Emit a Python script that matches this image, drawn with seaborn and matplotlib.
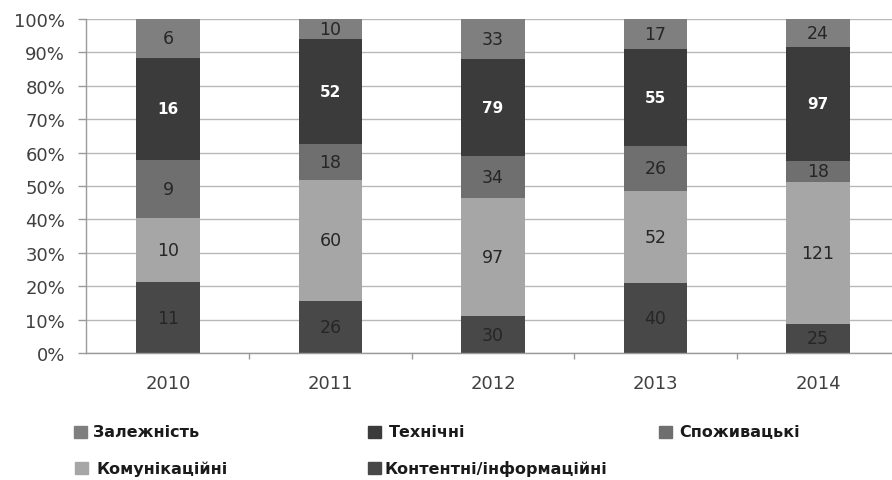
"""Stacked 100% bars of threat categories by year (2010-2014)."""

import matplotlib.pyplot as plt
import matplotlib.ticker as mticker
import numpy as np
import pandas as pd
import seaborn as sns
from matplotlib.patches import Rectangle

years = [2010, 2011, 2012, 2013, 2014]
# stacking order, top to bottom
categories = ["Залежність", "Технічні", "Споживацькі", "Комунікаційні", "Контентні/інформаційні"]
dependence = [6, 10, 33, 17, 24]
technical = [16, 52, 79, 55, 97]
consumer = [9, 18, 34, 26, 18]
communication = [10, 60, 97, 52, 121]
content = [11, 26, 30, 40, 25]

colors = ["#7f7f7f", "#3b3b3b", "#6f6f6f", "#a6a6a6", "#484848"]

W, H = 892, 481


def build_frame() -> pd.DataFrame:
    series = [dependence, technical, consumer, communication, content]
    rows = []
    for cat, vals in zip(categories, series):
        for y, v in zip(years, vals):
            rows.append({"year": y, "category": cat, "count": v})
    return pd.DataFrame(rows)


def main() -> None:
    sns.set_theme(style="white")
    plt.rcParams["font.family"] = ["DejaVu Sans"]

    df = build_frame()
    fig = plt.figure(figsize=(W / 100, H / 100), dpi=100)
    ax = fig.add_axes([86 / W, 1 - 354 / H, (W - 86) / W, (354 - 20) / H])

    sns.histplot(
        data=df, x="year", hue="category", weights="count",
        hue_order=categories, palette=colors, multiple="fill",
        discrete=True, shrink=0.39, linewidth=0, alpha=1,
        legend=False, ax=ax,
    )

    # segment labels at the middle of each stacked piece
    counts = np.array([dependence, technical, consumer, communication, content])
    totals = counts.sum(axis=0)
    for j, y in enumerate(years):
        base = 0.0
        for i in range(len(categories) - 1, -1, -1):
            share = counts[i, j] / totals[j]
            mid = base + share / 2
            if categories[i] == "Технічні":
                ax.text(y, mid, str(counts[i, j]), ha="center", va="center",
                        color="white", fontsize=11, fontweight="bold", zorder=5)
            else:
                ax.text(y, mid, str(counts[i, j]), ha="center", va="center",
                        color="#262626", fontsize=12.5, zorder=5)
            base += share

    ax.set_xlim(years[0] - 0.505, years[0] + 4.455)
    ax.set_ylim(0, 1)
    ax.set_yticks(np.arange(0, 1.01, 0.1))
    ax.yaxis.set_major_formatter(mticker.PercentFormatter(1.0, decimals=0))
    ax.set_xticks(years)
    ax.set_xticks([y + 0.5 for y in years[:-1]], minor=True)
    ax.set_xlabel("")
    ax.set_ylabel("")

    ax.grid(axis="y", color="#b8b8b8", linewidth=1.0)
    ax.set_axisbelow(True)
    for side in ["top", "right"]:
        ax.spines[side].set_visible(False)
    for side in ["left", "bottom"]:
        ax.spines[side].set_color("#9a9a9a")
        ax.spines[side].set_linewidth(1.0)

    ax.tick_params(axis="y", which="major", left=True, length=6, width=1,
                   color="#9a9a9a", pad=9, labelsize=13, labelcolor="#404040")
    ax.tick_params(axis="x", which="major", bottom=False, pad=9,
                   labelsize=13, labelcolor="#404040")
    ax.tick_params(axis="x", which="minor", bottom=True, length=4, width=1,
                   color="#9a9a9a")

    # legend laid out as in the source: three columns, two rows
    # (square left, square right, text left, row centre) in pixels
    legend_spots = {
        "Залежність": (74, 433, 93),
        "Технічні": (368, 433, 389),
        "Споживацькі": (659, 433, 679),
        "Комунікаційні": (75, 469, 97),
        "Контентні/інформаційні": (368, 469, 385),
    }
    sq_w, sq_h = 13, 12
    for cat, col in zip(categories, colors):
        sx, sy, tx = legend_spots[cat]
        fig.patches.append(Rectangle((sx / W, 1 - (sy + sq_h / 2) / H), sq_w / W, sq_h / H,
                                     transform=fig.transFigure, color=col))
        fig.text(tx / W, 1 - sy / H, cat, ha="left", va="center", fontsize=11.5,
                 fontweight="bold", color="#1a1a1a")

    fig.savefig("out.png", dpi=100)
    plt.close(fig)


if __name__ == "__main__":
    main()
